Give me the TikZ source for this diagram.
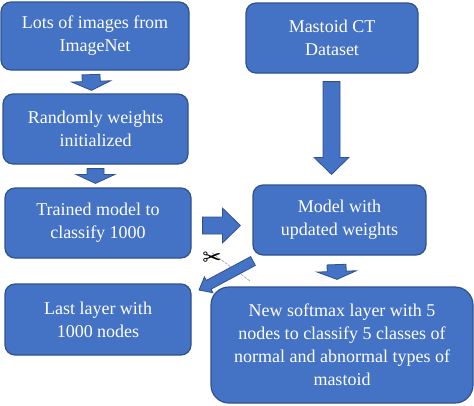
\documentclass[tikz,border=0pt]{standalone}
\usepackage{fontspec}
\setmainfont{Liberation Serif}
\newfontfamily\symfont{DejaVu Sans}
\usetikzlibrary{calc}
\definecolor{boxfill}{HTML}{4472C4}
\definecolor{boxedge}{HTML}{2F528F}
\tikzset{
  flowbox/.style={draw=boxedge,fill=boxfill,line width=1.2pt,rounded corners=10pt,text=white,
    align=center,inner sep=0pt,font=\fontsize{18}{23}\selectfont},
  blockshape/.style={draw=boxedge,fill=boxfill,line width=.8pt,line join=miter}
}
% start, end, shaft half width, head half width, head length
\newcommand{\blockarrow}[5]{%
  \coordinate (ba) at #1; \coordinate (bb) at #2;
  \coordinate (bn) at ($(bb)!#5pt!(ba)$);
  \draw[blockshape]
    ($(ba)!#3pt!90:(bb)$) -- ($(bn)!#3pt!-90:(ba)$) -- ($(bn)!#4pt!-90:(ba)$) -- (bb)
    -- ($(bn)!#4pt!90:(ba)$) -- ($(bn)!#3pt!90:(ba)$) -- ($(ba)!#3pt!-90:(bb)$) -- cycle;
}
\begin{document}
\begin{tikzpicture}[x=1pt,y=-1pt]
\useasboundingbox (0,0) rectangle (474,405);
\node[flowbox,minimum width=188pt,minimum height=68pt] (images) at (95,36) {Lots of images from\\ImageNet};
\node[flowbox,minimum width=185pt,minimum height=70pt] (random) at (95.5,129) {Randomly weights\\initialized};
\node[flowbox,minimum width=186pt,minimum height=70pt] (trained) at (98,223) {Trained model to\\classify 1000};
\node[flowbox,minimum width=186pt,minimum height=71pt] (last) at (98,319.5) {Last layer with\\1000 nodes};
\node[flowbox,minimum width=172pt,minimum height=70pt] (ct) at (332,38) {Mastoid CT\\Dataset};
\node[flowbox,minimum width=173pt,minimum height=70pt] (model) at (339.5,220) {Model with\\updated weights};
\node[flowbox,rounded corners=18pt,minimum width=262pt,minimum height=116pt] (softmax) at (342,345) {New softmax layer with 5\\nodes to classify 5 classes of\\normal and abnormal types of\\mastoid};
\blockarrow{($(images.south)+(-4,4)$)}{($(random.north)+(-4,-3)$)}{9}{19.5}{9}
\blockarrow{($(random.south)+(0,4)$)}{($(trained.north)+(-2.5,-4)$)}{8.5}{19.5}{9}
\blockarrow{($(ct.south)+(-0.5,8)$)}{($(model.north)+(-8,-10)$)}{8.5}{17.5}{17}
\blockarrow{($(trained.east)+(11,2.5)$)}{($(model.west)+(-12,5.5)$)}{8.5}{17.5}{18}
\blockarrow{($(model.south)+(-3,9)$)}{($(softmax.north)+(-5,-7)$)}{9.5}{19.5}{8}
\coordinate (cutstart) at (212,253);
\coordinate (cutend) at (250,281);
\draw[gray!70,line width=.7pt,dash pattern=on 3pt off 1pt] (cutstart) -- (cutend);
\blockarrow{(253,261)}{(199,290)}{5}{9}{11}
\node[font=\symfont\fontsize{23}{23}\selectfont,inner sep=0pt] (scissors) at (212,259) {✂};
\end{tikzpicture}
\end{document}
